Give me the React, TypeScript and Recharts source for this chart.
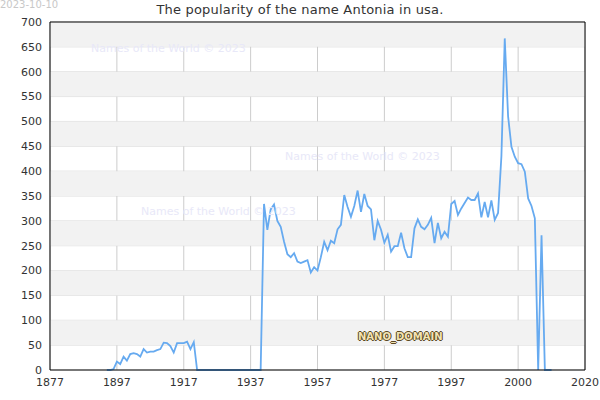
import React from "react";
import {
  LineChart,
  Line,
  XAxis,
  YAxis,
  CartesianGrid,
  ReferenceArea,
  ReferenceLine,
} from "recharts";

const YEARS_START = 1894;
const VALUES = [
  0, 0, 2, 17, 12, 27, 19, 32, 34, 32, 27, 42, 35, 37, 37, 40, 42, 55, 54, 48,
  35, 54, 54, 54, 57, 42, 56,
  // 1921 - 1940
  0, 0, 0, 0, 0, 0, 0, 0, 0, 0, 0, 0, 0, 0, 0, 0, 0, 0, 0, 0,
  // 1941 ->
  334, 282, 323, 333, 300, 288, 258, 233, 227, 235, 218, 215, 218, 221, 196,
  207, 200, 227, 258, 241, 260, 255, 283, 292, 352, 328, 308, 330, 361, 318,
  354, 330, 323, 261, 300, 282, 256, 272, 238, 249, 249, 276, 245, 227, 227,
  285, 303, 288, 283, 292, 306, 255, 296, 265, 278, 268, 334, 340, 312, 325,
  336, 347, 342, 342, 355, 307, 338, 307, 341, 302, 316, 430, 667, 510, 449,
  429, 416, 414, 399, 345, 330, 305, 0, 271, 0, 0, 0,
];
const X_TICKS = [1877, 1897, 1917, 1937, 1957, 1977, 1997, 2017, 2037];
const X_LABELS = ["1877", "1897", "1917", "1937", "1957", "1977", "1997", "2000", "2020"];
const Y_TICKS = [0, 50, 100, 150, 200, 250, 300, 350, 400, 450, 500, 550, 600, 650, 700];
const WATERMARKS = [
  { left: 91, top: 42 },
  { left: 285, top: 150 },
  { left: 141, top: 205 },
];

const data = VALUES.map((v, i) => ({ year: YEARS_START + i, value: v }));
const bands = Y_TICKS.filter((t, i) => i % 2 === 1).map((t) => [t, t + 50]);

const font = "'DejaVu Sans', sans-serif";

export default function App() {
  return (
    <div style={{ position: "absolute", left: 0, top: 0, width: 600, height: 400, fontFamily: font, background: "#fff" }}>
      <LineChart
        width={600}
        height={400}
        data={data}
        margin={{ top: 22, right: 15, left: 0, bottom: 0 }}
      >
        {bands.map(([a, b]) => (
          <ReferenceArea key={a} y1={a} y2={b} fill="#f2f2f2" fillOpacity={1} stroke="none" />
        ))}
        <CartesianGrid vertical={false} stroke="#dddddd" strokeWidth={1} />
        <CartesianGrid horizontal={false} stroke="#cccccc" strokeWidth={1} />
        <XAxis
          dataKey="year"
          type="number"
          domain={[1877, 2037]}
          ticks={X_TICKS}
          tickFormatter={(v) => X_LABELS[X_TICKS.indexOf(v)] ?? String(v)}
          tickLine={false}
          axisLine={{ stroke: "#000" }}
          tick={{ fill: "#333", fontSize: 11, fontFamily: font }}
          height={30}
          interval={0}
        />
        <YAxis
          domain={[0, 700]}
          ticks={Y_TICKS}
          tickLine={false}
          axisLine={{ stroke: "#000" }}
          tick={{ fill: "#333", fontSize: 11, fontFamily: font }}
          width={50}
          interval={0}
        />
        <ReferenceLine y={700} stroke="#000" />
        <ReferenceLine x={2037} stroke="#000" />
        <Line
          type="linear"
          dataKey="value"
          stroke="#66aaf0"
          strokeWidth={1.8}
          dot={false}
          isAnimationActive={false}
        />
      </LineChart>
      <div style={{ position: "absolute", left: 0, top: -1, fontSize: 10, lineHeight: "12px", color: "#c8c8c8" }}>2023-10-10</div>
      <div style={{ position: "absolute", left: 0, width: 600, top: 2, textAlign: "center", fontSize: 13, letterSpacing: 0.2, color: "#333" }}>
        The popularity of the name Antonia in usa.
      </div>
      {WATERMARKS.map((w, i) => (
        <div key={i} style={{ position: "absolute", left: w.left, top: w.top, fontSize: 11, color: "#e8e8f8", whiteSpace: "nowrap" }}>
          Names of the World © 2023
        </div>
      ))}
      <div
        style={{
          position: "absolute",
          left: 358,
          top: 331,
          fontSize: 10,
          color: "#f3e3b4",
          fontWeight: "bold",
          textShadow: "1px 0 0 #5a4820, -1px 0 0 #5a4820, 0 1px 0 #5a4820, 0 -1px 0 #5a4820",
        }}
      >
        NANO_DOMAIN
      </div>
    </div>
  );
}
